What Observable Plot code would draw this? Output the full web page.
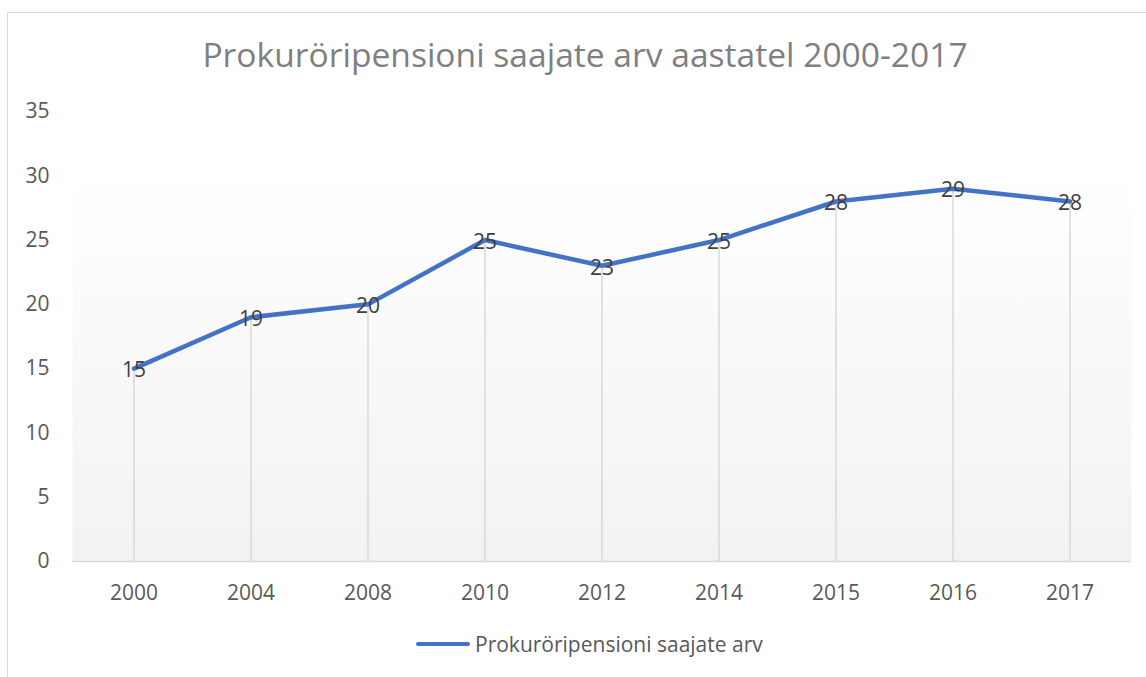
<!DOCTYPE html>
<html>
<head>
<meta charset="utf-8">
<script src="https://cdn.jsdelivr.net/npm/d3@7"></script>
<script src="https://cdn.jsdelivr.net/npm/@observablehq/plot@0.6"></script>
<style>
  html, body { margin: 0; padding: 0; background: #fff; }
  #wrap { position: relative; width: 1146px; height: 677px; overflow: hidden; font-family: "Open Sans", sans-serif; }
  #border { position: absolute; left: 7px; top: 12px; width: 1200px; height: 800px; border-left: 1.5px solid #d9d9d9; border-top: 1.5px solid #d9d9d9; }
  #title { position: absolute; left: 0; width: 1170px; top: 31px; text-align: center; font-size: 33.6px; color: #7f7f7f; line-height: 46px; white-space: nowrap; }
  #chart { position: absolute; left: 0; top: 0; }
  #legend { position: absolute; left: 416px; top: 630px; display: flex; align-items: center; font-size: 21px; color: #595959; white-space: nowrap; }
  #legend .sw { width: 54px; height: 4.5px; background: #4472c4; border-radius: 2px; margin-right: 5px; }
</style>
</head>
<body>
<div id="wrap">
  <div id="border"></div>
  <div id="chart"></div>
  <div id="title">Prokuröripensioni saajate arv aastatel 2000-2017</div>
  <div id="legend"><div class="sw"></div><span>Prokuröripensioni saajate arv</span></div>
</div>
<script>
const years = ["2000", "2004", "2008", "2010", "2012", "2014", "2015", "2016", "2017"];
const values = [15, 19, 20, 25, 23, 25, 28, 29, 28];
const yTicks = [0, 5, 10, 15, 20, 25, 30, 35];
const seriesName = "Prokuröripensioni saajate arv";

const data = years.map((y, i) => ({year: y, value: values[i]}));

const plot = Plot.plot({
  width: 1146,
  height: 677,
  marginLeft: 72,
  marginRight: 15,
  marginTop: 111,
  marginBottom: 116,
  style: {fontFamily: "Open Sans, sans-serif", fontSize: "21px", color: "#595959", background: "transparent"},
  x: {type: "band", domain: years, padding: 0, label: null},
  y: {domain: [0, 35], ticks: yTicks, label: null},
  marks: [
    Plot.frame({fill: "url(#bggrad)", stroke: null}),
    Plot.ruleY([0], {stroke: "#d9d9d9", strokeWidth: 1.5}),
    Plot.ruleX(data, {x: "year", y1: 0, y2: "value", stroke: "#d9d9d9", strokeWidth: 1.5}),
    Plot.line(data, {x: "year", y: "value", stroke: "#4472c4", strokeWidth: 4.5, strokeLinejoin: "round", strokeLinecap: "round"}),
    Plot.text(data, {x: "year", y: "value", text: d => String(d.value), fill: "#404040", fontSize: 21, dy: 2}),
    Plot.axisX({tickSize: 0, tickPadding: 24, fontSize: 21, fill: "#595959"}),
    Plot.axisY({ticks: yTicks, tickSize: 0, tickPadding: 23, fontSize: 21, fill: "#595959"})
  ]
});

const svg = d3.select(plot);
const defs = svg.insert("defs", ":first-child");
const g = defs.append("linearGradient").attr("id", "bggrad").attr("x1", 0).attr("y1", 0).attr("x2", 0).attr("y2", 1);
g.append("stop").attr("offset", "0%").attr("stop-color", "#ffffff");
g.append("stop").attr("offset", "12%").attr("stop-color", "#ffffff");
g.append("stop").attr("offset", "100%").attr("stop-color", "#f2f2f2");

document.getElementById("chart").appendChild(plot);
</script>
</body>
</html>
